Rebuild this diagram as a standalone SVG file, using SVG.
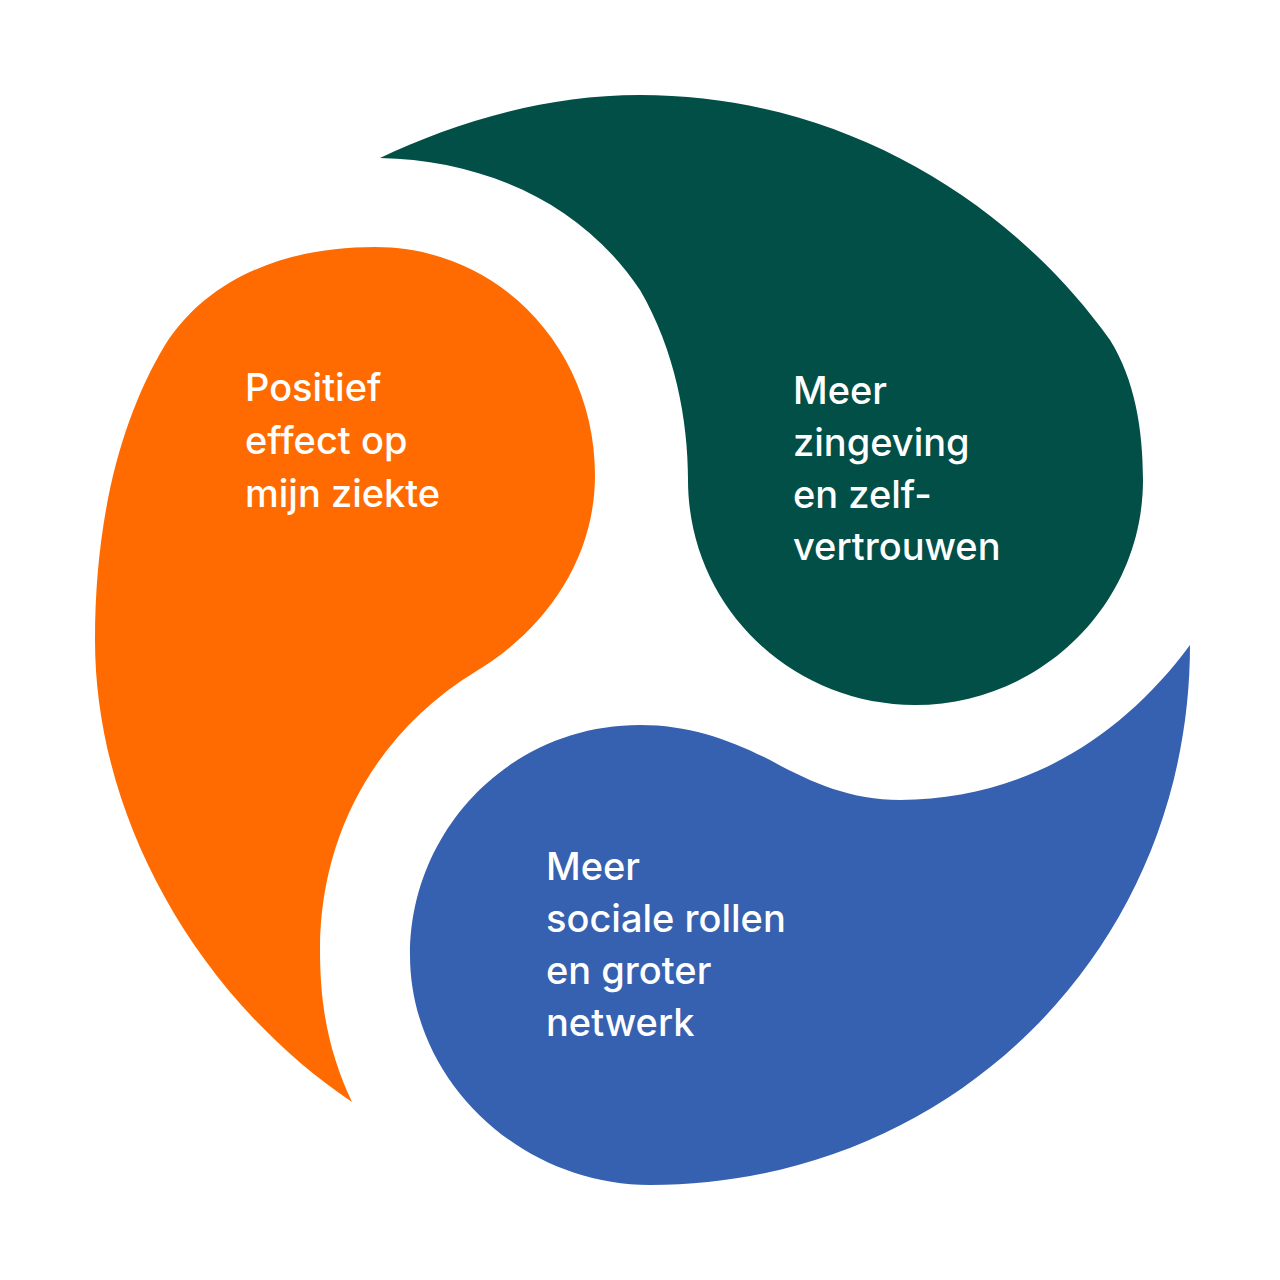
<svg xmlns="http://www.w3.org/2000/svg" width="1280" height="1280" viewBox="0 0 1280 1280">
<style>
text{font-family:Inter,"Noto Sans",sans-serif;font-size:38px;font-weight:500;fill:#fff}
</style>
<rect width="1280" height="1280" fill="#fff"/>
<g id="orange">
<path fill="#ff6b00" d="M352,1102 C200,1000 95,820 95,640 C95,520 120,420 165,345 C210,275 290,247 375,247 C500,247 595,350 595,475 C595,560 545,630 475,672 C380,730 320,830 320,950 C320,1010 330,1055 352,1102 Z"/>
<text x="245" y="401">Positief</text>
<text x="245" y="454">effect op</text>
<text x="245" y="507">mijn ziekte</text>
</g>
<g id="green">
<path fill="#024f47" d="M380,158 C450,125 540,95 640,95 C840,95 1010,200 1110,340 C1135,380 1143,430 1143,480 C1143,605 1040,705 915,705 C790,705 688,605 688,480 C688,420 675,350 640,290 C580,200 480,160 380,158 Z"/>
<text x="793" y="404">Meer</text>
<text x="793" y="456">zingeving</text>
<text x="793" y="508">en zelf-</text>
<text x="793" y="560">vertrouwen</text>
</g>
<g id="blue">
<path fill="#3660b0" d="M1190,645 C1190,950 950,1185 650,1185 C520,1185 410,1080 410,955 C410,830 510,725 640,725 C690,725 730,740 770,760 C810,782 850,800 900,800 C1020,800 1120,740 1190,645 Z"/>
<text x="546" y="880">Meer</text>
<text x="546" y="932">sociale rollen</text>
<text x="546" y="984">en groter</text>
<text x="546" y="1036">netwerk</text>
</g>
<g id="connectors"/>
</svg>
